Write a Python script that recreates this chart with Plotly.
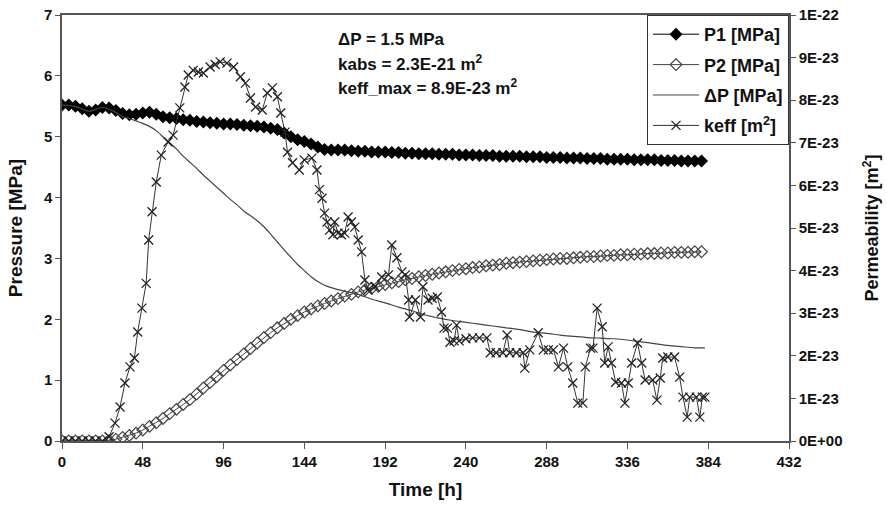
import plotly.graph_objects as go

# ---------------- data ----------------
time_p = list(range(0, 384, 4))

p1 = [5.52, 5.52, 5.50, 5.46, 5.42, 5.44, 5.48, 5.47, 5.43, 5.38, 5.36, 5.37,
      5.39, 5.40, 5.37, 5.33, 5.31, 5.30, 5.28, 5.27, 5.25, 5.24, 5.23, 5.22,
      5.21, 5.21, 5.20, 5.19, 5.18, 5.17, 5.16, 5.14, 5.12, 5.06, 5.00, 4.95,
      4.92, 4.88, 4.83, 4.79, 4.78, 4.78, 4.78, 4.77, 4.76, 4.76, 4.75, 4.75,
      4.75, 4.74, 4.74, 4.73, 4.73, 4.72, 4.72, 4.72, 4.71, 4.71, 4.71, 4.70,
      4.70, 4.70, 4.69, 4.69, 4.69, 4.68, 4.68, 4.68, 4.68, 4.67, 4.67, 4.67,
      4.66, 4.66, 4.66, 4.65, 4.65, 4.65, 4.64, 4.64, 4.64, 4.63, 4.63, 4.63,
      4.63, 4.62, 4.62, 4.62, 4.62, 4.61, 4.61, 4.61, 4.60, 4.60, 4.60, 4.60]

p2 = [0.00, 0.00, 0.00, 0.00, 0.00, 0.00, 0.00, 0.01, 0.03, 0.06, 0.09, 0.13,
      0.18, 0.24, 0.30, 0.37, 0.45, 0.52, 0.60, 0.68, 0.77, 0.87, 0.96, 1.06,
      1.16, 1.25, 1.34, 1.43, 1.52, 1.61, 1.70, 1.78, 1.86, 1.93, 2.00, 2.06,
      2.12, 2.17, 2.22, 2.26, 2.30, 2.34, 2.38, 2.41, 2.45, 2.48, 2.51, 2.54,
      2.57, 2.60, 2.62, 2.65, 2.67, 2.70, 2.72, 2.74, 2.76, 2.78, 2.80, 2.82,
      2.83, 2.85, 2.86, 2.88, 2.89, 2.90, 2.92, 2.93, 2.94, 2.95, 2.96, 2.97,
      2.98, 2.99, 3.00, 3.00, 3.01, 3.02, 3.03, 3.03, 3.04, 3.05, 3.05, 3.06,
      3.06, 3.07, 3.07, 3.08, 3.08, 3.09, 3.09, 3.10, 3.10, 3.10, 3.11, 3.11]

time_dp = [0, 8, 16, 24, 32, 36, 40, 44, 48, 52, 56, 60, 64, 68, 72, 76, 80, 84,
           88, 92, 96, 100, 104, 108, 112, 116, 120, 124, 128, 132, 136, 140,
           144, 148, 152, 156, 160, 168, 176, 184, 192, 200, 208, 216, 224, 232,
           240, 248, 256, 264, 272, 280, 288, 296, 304, 312, 320, 328, 336, 344,
           352, 360, 368, 376, 382]
dp = [5.52, 5.50, 5.42, 5.48, 5.40, 5.33, 5.30, 5.26, 5.22, 5.17, 5.10, 5.00,
      4.90, 4.80, 4.68, 4.58, 4.48, 4.37, 4.27, 4.17, 4.07, 3.97, 3.88, 3.78,
      3.70, 3.62, 3.52, 3.40, 3.27, 3.14, 3.02, 2.90, 2.80, 2.70, 2.62, 2.56,
      2.52, 2.46, 2.41, 2.33, 2.27, 2.20, 2.14, 2.07, 2.02, 1.98, 1.95, 1.92,
      1.89, 1.86, 1.83, 1.79, 1.77, 1.74, 1.72, 1.70, 1.69, 1.68, 1.66, 1.63,
      1.60, 1.57, 1.55, 1.53, 1.53]

time_k = [0, 4, 8, 12, 16, 20, 24, 28, 31.5, 34.5, 37.4, 40.4, 43, 45, 47.5, 50,
          51.5, 53.5, 56, 59, 63, 66, 70, 73, 75, 78, 81, 84, 88, 91, 94, 98,
          102, 106, 109, 112, 115, 119, 122, 125, 128, 130, 132.5, 134, 137,
          141, 144, 148.5, 151.5, 153, 154.5, 156, 157.5, 159, 161, 162, 164,
          166, 168, 170, 172, 174, 176, 178, 180, 182, 186, 190, 194, 196, 199,
          202, 204, 206, 206.5, 210, 213, 214.5, 217.5, 220, 223, 225.5, 227,
          229, 230.5, 233, 234.5, 236, 240, 244, 248, 252.5, 254.5, 258, 262,
          264.5, 266, 270, 274, 275, 278, 283, 286, 289, 292, 295, 298, 300.5,
          303.5, 306.5, 309.5, 311, 314, 315.5, 318, 321, 322.5, 324.5, 326.5,
          329, 332.5, 334.5, 336.5, 338.5, 342, 344.5, 346.5, 351, 353.5, 355.5,
          357, 360, 364, 367, 369, 371.5, 373, 377, 379, 380.5, 382]
keff_e23 = [0, 0, 0, 0, 0, 0, 0, 0.1, 0.42, 0.8, 1.36, 1.74, 1.95, 2.56, 3.12,
            3.7, 4.72, 5.38, 6.08, 6.71, 7.02, 7.18, 7.82, 8.31, 8.59, 8.7,
            8.66, 8.64, 8.78, 8.84, 8.9, 8.87, 8.78, 8.55, 8.4, 8.05, 7.84,
            7.77, 8.17, 8.29, 8.08, 7.7, 7.25, 6.78, 6.53, 6.36, 6.6, 6.64,
            6.36, 5.9, 5.7, 5.35, 5.14, 4.95, 4.84, 5.14, 4.88, 4.84, 4.88,
            5.26, 5.14, 5.02, 4.72, 4.44, 3.78, 3.55, 3.62, 3.85, 3.9, 4.6, 4.3,
            3.97, 3.9, 3.31, 2.91, 3.31, 2.91, 3.62, 3.31, 3.35, 3.38, 3.03,
            2.65, 2.65, 2.32, 2.35, 2.72, 2.35, 2.4, 2.42, 2.42, 2.42, 2.07,
            2.07, 2.07, 2.49, 2.07, 2.07, 2.07, 1.71, 2.14, 2.54, 2.14, 2.14,
            2.14, 1.74, 2.18, 1.74, 1.36, 0.89, 0.89, 1.74, 2.18, 2.18, 3.12,
            2.68, 1.83, 2.21, 1.83, 1.38, 1.36, 0.89, 1.36, 1.83, 2.3, 1.83,
            1.43, 1.43, 0.96, 1.48, 1.95, 1.97, 1.97, 1.5, 1.03, 0.56, 1.03,
            1.03, 0.56, 1.03, 1.03]
keff = [v * 1e-23 for v in keff_e23]

x_ticks = [0, 48, 96, 144, 192, 240, 288, 336, 384, 432]
y_ticks = [0, 1, 2, 3, 4, 5, 6, 7]
y2_ticks = [i * 1e-23 for i in range(11)]
y2_labels = ["0E+00", "1E-23", "2E-23", "3E-23", "4E-23", "5E-23", "6E-23",
             "7E-23", "8E-23", "9E-23", "1E-22"]

FONT = "Liberation Sans, Arial, Helvetica, sans-serif"
AX = "#555555"

fig = go.Figure()
fig.add_trace(go.Scatter(
    x=time_p, y=p1, name="<b>P1 [MPa]</b>", mode="lines+markers",
    line=dict(color="black", width=1),
    marker=dict(symbol="diamond", size=10, color="black"),
    legendgroup="a"))
fig.add_trace(go.Scatter(
    x=time_p, y=p2, name="<b>P2 [MPa]</b>", mode="lines+markers",
    line=dict(color="#444444", width=1),
    marker=dict(symbol="diamond-open", size=9, color="#444444",
                line=dict(width=1.2, color="#444444")),
    legendgroup="b"))
fig.add_trace(go.Scatter(
    x=time_dp, y=dp, name="<b>ΔP [MPa]</b>", mode="lines",
    line=dict(color="#444444", width=1.2, shape="spline", smoothing=0.6),
    legendgroup="c"))
fig.add_trace(go.Scatter(
    x=time_k, y=keff, name="<b>keff [m<sup>2</sup>]</b>", mode="lines+markers",
    yaxis="y2",
    line=dict(color="#333333", width=1),
    marker=dict(symbol="x-thin", size=9, color="#222222",
                line=dict(width=1.3, color="#222222")),
    legendgroup="d"))

fig.update_layout(
    width=887, height=507,
    margin=dict(l=62, r=98, t=15, b=66, autoexpand=False),
    paper_bgcolor="white", plot_bgcolor="white",
    font=dict(family=FONT, color="#111111", size=15),
    showlegend=True,
    legend=dict(x=1, xanchor="right", y=1, yanchor="top",
                bgcolor="white", bordercolor="#333333", borderwidth=1,
                font=dict(size=18, family=FONT, color="#111111"),
                tracegroupgap=4, itemwidth=46),
    xaxis=dict(range=[0, 432], tickvals=x_ticks, automargin=False,
               ticktext=[f"<b>{t}</b>" for t in x_ticks],
               showline=True, linecolor=AX, linewidth=1.5, mirror=True,
               ticks="outside", ticklen=6, tickcolor=AX, showgrid=False,
               zeroline=False, tickfont=dict(size=15),
               title=dict(text="<b>Time [h]</b>", font=dict(size=19),
                          standoff=14)),
    yaxis=dict(range=[0, 7], tickvals=y_ticks, automargin=False,
               ticktext=[f"<b>{t}</b>" for t in y_ticks],
               showline=True, linecolor=AX, linewidth=1.5,
               ticks="outside", ticklen=5, tickcolor=AX, showgrid=False,
               zeroline=False, tickfont=dict(size=15),
               title=dict(text="<b>Pressure [MPa]</b>", font=dict(size=19),
                          standoff=16)),
    yaxis2=dict(range=[0, 1e-22], overlaying="y", side="right",
                tickvals=y2_ticks, automargin=False,
                ticktext=[f"<b>{t}</b>" for t in y2_labels],
                showline=True, linecolor=AX, linewidth=1.5,
                ticks="outside", ticklen=5, tickcolor=AX, showgrid=False,
                zeroline=False, tickfont=dict(size=15),
                title=dict(text="<b>Permeability [m<sup>2</sup>]</b>",
                           font=dict(size=18), standoff=24)),
)

notes = ["ΔP = 1.5 MPa", "kabs = 2.3E-21 m<sup>2</sup>",
         "keff_max = 8.9E-23 m<sup>2</sup>"]
for i, txt in enumerate(notes):
    fig.add_annotation(text=f"<b>{txt}</b>", xref="paper", yref="paper",
                       x=(336 - 62) / 727, y=1 - (39 + 24 * i - 15) / 426,
                       xanchor="left", yanchor="middle", showarrow=False,
                       font=dict(size=17, family=FONT, color="#111111"))

fig.write_html("out.html",
               config={"displayModeBar": False},
               post_script="document.body.style.margin='0';"
                           "document.body.style.padding='0';")
